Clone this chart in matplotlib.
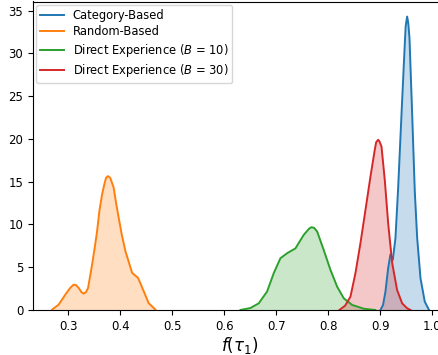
import matplotlib
matplotlib.use("Agg")
import matplotlib.pyplot as plt
import numpy as np

# density curves (x = f(tau_1), y = density)
cat_x = [0.900, 0.905, 0.9096, 0.9148, 0.9192, 0.9237, 0.9288, 0.934, 0.9404,
         0.9467, 0.9485, 0.9513, 0.9533, 0.9558, 0.961, 0.966, 0.9706, 0.977,
         0.9852, 0.993]
cat_y = [0.0, 0.6, 2.15, 4.9, 6.5, 5.85, 8.4, 14.25, 22.8,
         31.0, 33.2, 34.3, 33.6, 31.8, 22.8, 13.85, 8.4, 3.7,
         0.97, 0.05]

rand_x = [0.2687, 0.2813, 0.2942, 0.3035, 0.310, 0.3148, 0.3198, 0.325, 0.3294,
          0.334, 0.3379, 0.3456, 0.3506, 0.3552, 0.3596, 0.3648, 0.3698, 0.3725,
          0.3763, 0.3804, 0.3871, 0.3912, 0.3967, 0.4027, 0.4096, 0.4225, 0.434,
          0.4448, 0.4544, 0.4673]
rand_y = [0.05, 0.62, 1.8, 2.58, 2.96, 2.9, 2.58, 2.1, 1.91,
          2.1, 2.58, 5.3, 7.26, 9.2, 11.56, 13.5, 14.87, 15.45,
          15.65, 15.46, 14.3, 12.7, 10.8, 8.8, 6.9, 4.35, 3.75,
          2.2, 0.8, 0.05]

de10_x = [0.6308, 0.650, 0.666, 0.682, 0.6948, 0.7077, 0.7206, 0.7365, 0.7525,
          0.7627, 0.7673, 0.7725, 0.7783, 0.791, 0.8038, 0.8167, 0.8294, 0.8456,
          0.8679, 0.890]
de10_y = [0.0, 0.23, 0.78, 2.15, 4.3, 6.05, 6.64, 7.2, 8.78,
          9.5, 9.68, 9.6, 9.17, 7.0, 4.7, 2.73, 1.37, 0.59,
          0.15, 0.0]

de30_x = [0.821, 0.832, 0.8423, 0.8519, 0.8615, 0.8712, 0.8808, 0.889, 0.8917,
          0.8956, 0.8981, 0.902, 0.9083, 0.9148, 0.9225, 0.932, 0.9417, 0.9513,
          0.9577]
de30_y = [0.0, 0.5, 1.56, 4.3, 7.8, 11.7, 15.6, 18.7, 19.6,
          19.9, 19.7, 19.1, 15.2, 10.15, 5.5, 2.34, 0.78, 0.2,
          0.0]

labels = ["Category-Based", "Random-Based",
          "Direct Experience ($B$ = 10)", "Direct Experience ($B$ = 30)"]
colors = ["tab:blue", "tab:orange", "tab:green", "tab:red"]

plt.rcParams["font.size"] = 8.5

fig = plt.figure(figsize=(4.39, 3.55), dpi=100)
ax = fig.add_axes([33 / 439, 45 / 355, 413 / 439, 308.5 / 355])

series = [(cat_x, cat_y), (rand_x, rand_y), (de10_x, de10_y), (de30_x, de30_y)]
for (xs, ys), lab, col in zip(series, labels, colors):
    xs = np.array(xs)
    ys = np.array(ys)
    ax.fill_between(xs, ys, color=col, alpha=0.25, linewidth=0)
    ax.plot(xs, ys, color=col, lw=1.4, label=lab, solid_joinstyle="round")

ax.set_xlim(0.232, 1.026)
ax.set_ylim(0, 36.06)
ax.set_xticks([0.3, 0.4, 0.5, 0.6, 0.7, 0.8, 0.9, 1.0])
ax.set_xticklabels(["0.3", "0.4", "0.5", "0.6", "0.7", "0.8", "0.9", "1.0"])
ax.set_yticks([0, 5, 10, 15, 20, 25, 30, 35])
ax.tick_params(labelsize=8.5)
ax.set_xlabel(r"$f(\tau_1)$", fontsize=12, labelpad=2)
ax.legend(loc="upper left", fontsize=8.3, borderaxespad=0.3,
          labelspacing=0.3, borderpad=0.35)

fig.savefig("out.png", dpi=100)
